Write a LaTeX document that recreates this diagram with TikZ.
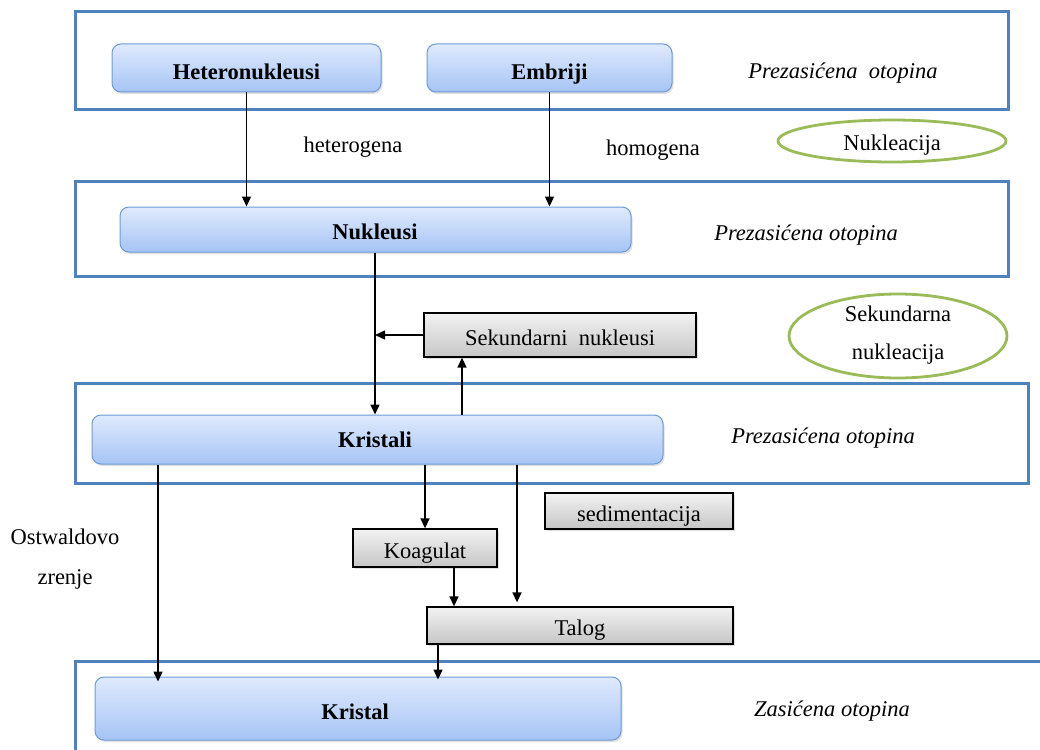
\documentclass[tikz,border=0pt]{standalone}
\usepackage{fontspec}
\setmainfont{Liberation Serif}
\usetikzlibrary{shapes.geometric,arrows.meta,shadows}
\definecolor{framec}{HTML}{4F81BD}
\definecolor{bluetop}{HTML}{DFEAFD}
\definecolor{bluebot}{HTML}{A6C4F5}
\definecolor{blueedge}{HTML}{6E9AD6}
\definecolor{greenc}{HTML}{9BBB59}
\newcommand{\fsz}{\fontsize{22.5}{27}\selectfont}
\tikzset{
  txt/.style={font=\fsz},
  frame/.style={draw=framec, line width=3pt},
  bluebox/.style={draw=blueedge, line width=1pt, rounded corners=9pt, top color=bluetop, bottom color=bluebot,
    font=\fsz\bfseries, inner ysep=0pt, text height=25pt, text depth=2pt,
    drop shadow={shadow xshift=1.5pt, shadow yshift=-2pt, opacity=0.25}},
  graybox/.style={draw=black, line width=1.3pt, top color=gray!10, bottom color=gray!45,
    inner ysep=0pt, text height=23pt, text depth=3pt,
    drop shadow={shadow xshift=1.5pt, shadow yshift=-2pt, opacity=0.25}},
  oval/.style={draw=greenc, line width=2.8pt, ellipse, inner sep=0pt, align=center},
  lbl/.style={inner sep=0pt, align=center},
  btxt/.style={font=\fsz\bfseries, inner sep=0pt},
  itxt/.style={lbl, font=\fsz\itshape},
  arr/.style={-{Triangle[length=10pt,width=9pt]}, line width=1.4pt},
}
\begin{document}
\begin{tikzpicture}[x=1pt,y=-1pt, every node/.style={txt}]
\useasboundingbox[fill=white] (0,0) rectangle (1040,749);
% frames
\draw[frame] (75,12) rectangle (1008,110);
\draw[frame] (75,181) rectangle (1008,276);
\draw[frame] (75,383) rectangle (1028,483);
\draw[frame] (75,661) rectangle (1060,770);
% blue boxes
\node[bluebox, minimum width=269pt, minimum height=48pt] (het) at (246.5,68) {Heteronukleusi};
\node[bluebox, minimum width=245pt, minimum height=48pt] (emb) at (549.5,68) {Embriji};
\node[bluebox, minimum width=511pt, minimum height=45pt] (nuk) at (375.5,229.5) {};
\node[btxt] (nukt) at (375,232) {Nukleusi};
\node[bluebox, minimum width=571pt, minimum height=49pt] (kri) at (377.5,439.5) {};
\node[btxt] (krit) at (375,440) {Kristali};
\node[bluebox, minimum width=526pt, minimum height=63pt] (kst) at (358,708.5) {};
\node[btxt] (kstt) at (355,712) {Kristal};
% gray boxes
\node[graybox, minimum width=272pt, minimum height=44pt] (sek) at (560,335) {Sekundarni\ \ nukleusi};
\node[graybox, minimum width=188pt, minimum height=36pt] (sed) at (639,511) {sedimentacija};
\node[graybox, minimum width=144pt, minimum height=38pt] (koa) at (425,548) {Koagulat};
\node[graybox, minimum width=306pt, minimum height=37pt] (tal) at (580,625.5) {Talog};
% ovals
\node[oval, minimum width=228pt, minimum height=42pt] (nukl) at (892,141) {};
\node[lbl] (nuklt) at (892,145) {Nukleacija};
\node[oval, minimum width=218pt, minimum height=84pt] (sekn) at (898,336) {};
\node[lbl] (sekt1) at (898,314) {Sekundarna};
\node[lbl] (sekt2) at (898,354) {nukleacija};
% labels
\node[itxt] (p1) at (843,73) {Prezasićena\ \ otopina};
\node[itxt] (p2) at (806,235) {Prezasićena otopina};
\node[itxt] (p3) at (823,438) {Prezasićena otopina};
\node[itxt] (p4) at (832,711) {Zasićena otopina};
\node[lbl] (hetl) at (353,147) {heterogena};
\node[lbl] (homl) at (653,150) {homogena};
\node[lbl] (ost) at (65,537) {Ostwaldovo};
\node[lbl] (zre) at (65,579) {zrenje};
% connectors
\draw[arr] (het.south) -- (het.south |- nuk.north);
\draw[arr] (emb.south) -- (emb.south |- nuk.north);
\draw[arr] (nuk.south -| nukt.center) -- (nukt.center |- kri.north);
\draw[arr] (sek.west) -- (sek.west -| nukt.center);
\draw[arr] (kri.north -| 462,0) -- (sek.south -| 462,0);
\draw[arr] (kri.south -| 158,0) -- ([yshift=-5pt]kst.north -| 158,0);
\draw[arr] (kri.south -| koa.north) -- (koa.north);
\draw[arr] (kri.south -| 517,0) -- ([yshift=4pt]tal.north -| 517,0);
\draw[arr] (koa.south -| 454,0) -- (tal.north -| 454,0);
\draw[arr] (tal.south -| 438,0) -- ([yshift=-3pt]kst.north -| 438,0);
\end{tikzpicture}
\end{document}
